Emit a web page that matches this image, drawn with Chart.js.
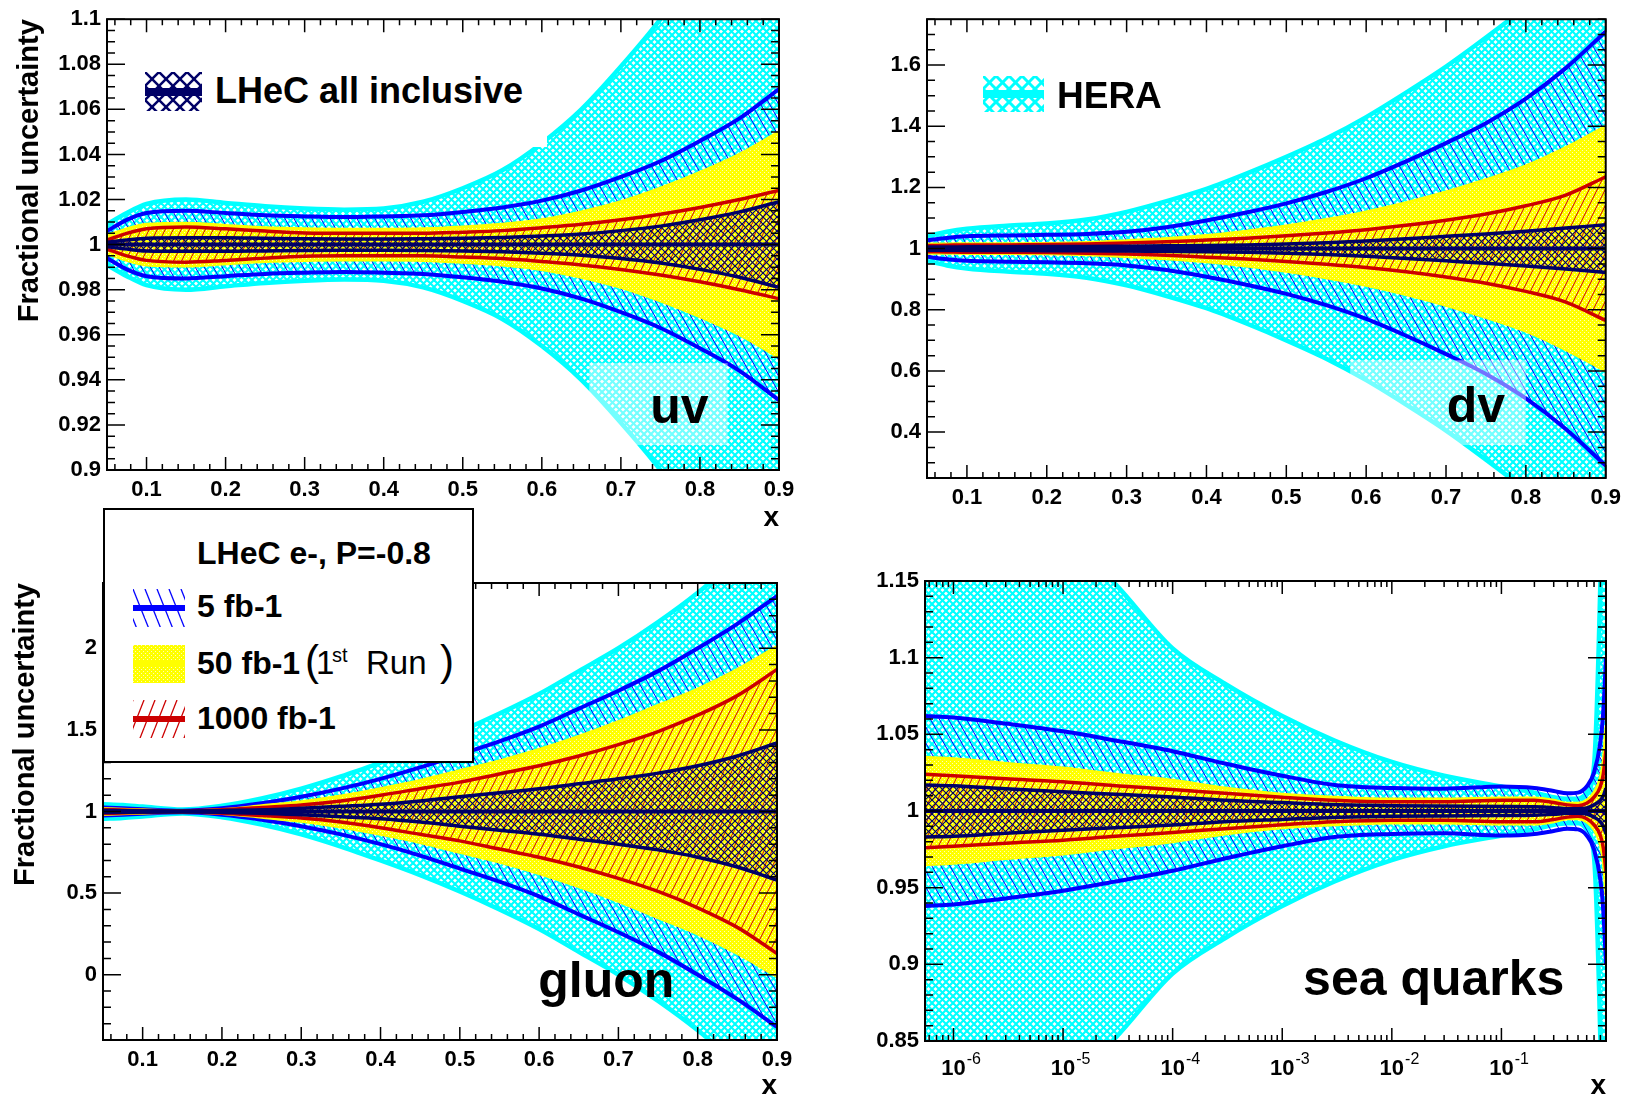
<!DOCTYPE html>
<html>
<head>
<meta charset="utf-8">
<title>LHeC PDF fractional uncertainties</title>
<script src="https://cdn.jsdelivr.net/npm/chart.js@4.4.1/dist/chart.umd.min.js"></script>
<style>
  html, body { margin: 0; padding: 0; background: #fff; }
  body { position: relative; width: 1628px; height: 1103px; overflow: hidden; font-family: "Liberation Sans", Arial, Helvetica, sans-serif; }
  canvas { position: absolute; }
  .box { position: absolute; background: #fff; box-sizing: border-box; }
  .t { position: absolute; white-space: nowrap; line-height: 1.117; color: #000; }
</style>
</head>
<body>
<canvas id="uv" width="815" height="535" style="left:0px;top:0px"></canvas>
<canvas id="dv" width="808" height="540" style="left:820px;top:0px"></canvas>
<canvas id="gluon" width="815" height="548" style="left:0px;top:555px"></canvas>
<canvas id="sea" width="808" height="548" style="left:820px;top:555px"></canvas>
<div class="box" style="left:125px;top:40px;width:422px;height:107px"></div>
<div class="box" style="left:103px;top:508px;width:371px;height:255px;border:2px solid #000"></div>
<script>
// half widths of the uncertainty bands (band = 1 +/- value)

// x grid used by uv, dv and gluon
var xValence = [0.05, 0.075, 0.1, 0.15, 0.2, 0.25, 0.3, 0.35, 0.4, 0.45, 0.5, 0.55, 0.6, 0.65, 0.7, 0.75, 0.8, 0.85, 0.9];

var uvHera = [0.009, 0.014, 0.018, 0.020, 0.0185, 0.017, 0.016, 0.0155, 0.016, 0.019, 0.025, 0.033, 0.045, 0.06, 0.079, 0.10, 0.125, 0.155, 0.19];
var uv5    = [0.006, 0.011, 0.014, 0.015, 0.014, 0.013, 0.0125, 0.0122, 0.0125, 0.013, 0.0145, 0.0165, 0.0195, 0.024, 0.030, 0.037, 0.046, 0.056, 0.069];
var uv50   = [0.004, 0.007, 0.009, 0.0095, 0.0085, 0.0075, 0.007, 0.0068, 0.0068, 0.007, 0.0078, 0.009, 0.011, 0.0145, 0.019, 0.025, 0.032, 0.040, 0.050];
var uv1000 = [0.002, 0.005, 0.007, 0.0078, 0.007, 0.006, 0.0052, 0.005, 0.005, 0.005, 0.0055, 0.0062, 0.0075, 0.009, 0.011, 0.0135, 0.0165, 0.02, 0.024];
var uvAll  = [0.001, 0.002, 0.0028, 0.003, 0.003, 0.0028, 0.0026, 0.0025, 0.0025, 0.0026, 0.0028, 0.0032, 0.0038, 0.0047, 0.0062, 0.0082, 0.011, 0.0145, 0.019];

var dvHera = [0.04, 0.055, 0.065, 0.075, 0.082, 0.095, 0.12, 0.155, 0.195, 0.245, 0.30, 0.36, 0.43, 0.51, 0.595, 0.69, 0.79, 0.90, 1.02];
var dv5    = [0.027, 0.035, 0.04, 0.043, 0.045, 0.048, 0.055, 0.07, 0.092, 0.118, 0.148, 0.185, 0.23, 0.285, 0.345, 0.41, 0.49, 0.59, 0.71];
var dv50   = [0.015, 0.015, 0.016, 0.016, 0.017, 0.02, 0.026, 0.033, 0.043, 0.057, 0.074, 0.095, 0.12, 0.15, 0.185, 0.225, 0.27, 0.33, 0.40];
var dv1000 = [0.01, 0.011, 0.012, 0.012, 0.013, 0.015, 0.018, 0.022, 0.028, 0.034, 0.042, 0.051, 0.062, 0.076, 0.093, 0.113, 0.14, 0.175, 0.235];
var dvAll  = [0.005, 0.005, 0.006, 0.006, 0.007, 0.007, 0.008, 0.009, 0.01, 0.012, 0.015, 0.019, 0.025, 0.032, 0.04, 0.048, 0.057, 0.067, 0.078];

var gHera = [0.045, 0.04, 0.03, 0.012, 0.035, 0.08, 0.14, 0.215, 0.30, 0.39, 0.49, 0.60, 0.72, 0.86, 1.0, 1.16, 1.34, 1.55, 1.8];
var g5    = [0.025, 0.02, 0.014, 0.005, 0.02, 0.05, 0.09, 0.14, 0.20, 0.27, 0.35, 0.43, 0.52, 0.63, 0.74, 0.86, 1.0, 1.15, 1.32];
var g50   = [0.018, 0.014, 0.01, 0.004, 0.012, 0.035, 0.06, 0.095, 0.14, 0.19, 0.25, 0.31, 0.38, 0.46, 0.55, 0.65, 0.75, 0.87, 1.01];
var g1000 = [0.012, 0.009, 0.006, 0.003, 0.01, 0.025, 0.04, 0.065, 0.10, 0.14, 0.18, 0.23, 0.28, 0.34, 0.41, 0.49, 0.59, 0.71, 0.87];
var gAll  = [0.006, 0.005, 0.003, 0.002, 0.005, 0.01, 0.02, 0.032, 0.045, 0.065, 0.09, 0.115, 0.14, 0.17, 0.20, 0.235, 0.28, 0.34, 0.42];

// sea quarks, log x
var xSea = [5.5e-7, 1e-6, 3e-6, 1e-5, 3e-5, 1e-4, 3e-4, 1e-3, 3e-3, 1e-2, 3e-2, 0.1, 0.2, 0.3, 0.4, 0.5, 0.6, 0.7, 0.8, 0.85, 0.9];
var seaHera = [0.24, 0.23, 0.205, 0.18, 0.148, 0.106, 0.083, 0.062, 0.046, 0.032, 0.023, 0.016, 0.012, 0.009, 0.008, 0.008, 0.012, 0.03, 0.15, 0.25, 0.4];
var sea5    = [0.062, 0.061, 0.057, 0.052, 0.046, 0.039, 0.031, 0.023, 0.017, 0.015, 0.0145, 0.016, 0.015, 0.013, 0.0115, 0.012, 0.016, 0.025, 0.045, 0.065, 0.10];
var sea50   = [0.035, 0.034, 0.031, 0.028, 0.024, 0.02, 0.015, 0.011, 0.009, 0.0078, 0.0078, 0.0085, 0.0085, 0.007, 0.005, 0.005, 0.007, 0.012, 0.022, 0.033, 0.055];
var sea1000 = [0.024, 0.023, 0.021, 0.019, 0.0165, 0.014, 0.0115, 0.009, 0.007, 0.006, 0.006, 0.007, 0.007, 0.0055, 0.004, 0.0035, 0.005, 0.009, 0.016, 0.024, 0.04];
var seaAll  = [0.017, 0.0165, 0.0145, 0.0125, 0.011, 0.0092, 0.007, 0.0055, 0.0042, 0.0035, 0.0032, 0.003, 0.0028, 0.0022, 0.0015, 0.0015, 0.002, 0.004, 0.007, 0.01, 0.015];

var CENTRAL = 1;

// axis ticks
var xTicksValence = [0.1, 0.2, 0.3, 0.4, 0.5, 0.6, 0.7, 0.8, 0.9];
var yTicksUv = [0.9, 0.92, 0.94, 0.96, 0.98, 1, 1.02, 1.04, 1.06, 1.08, 1.1];
var yTicksDv = [0.4, 0.6, 0.8, 1, 1.2, 1.4, 1.6];
var yTicksGluon = [0, 0.5, 1, 1.5, 2];
var yTicksSea = [0.85, 0.9, 0.95, 1, 1.05, 1.1, 1.15];
var xTicksSea = [1e-6, 1e-5, 1e-4, 1e-3, 1e-2, 1e-1];
var xExpSea = ['-6', '-5', '-4', '-3', '-2', '-1'];

var FONT = '"Liberation Sans", Arial, Helvetica, sans-serif';
var NAVY = '#000066', BLUE = '#0000ff', RED = '#cc0000', YELLOW = '#ffff00', CYAN = '#00ffff';

function tile(w, h, color, lw, dirs) {
  var c = document.createElement('canvas');
  c.width = w; c.height = h;
  var g = c.getContext('2d');
  g.strokeStyle = color;
  g.lineWidth = lw;
  dirs.forEach(function (d) {
    for (var dx = -w; dx <= w; dx += w) {
      g.beginPath();
      if (d === '\\') { g.moveTo(dx, 0); g.lineTo(dx + w, h); }
      else { g.moveTo(dx, h); g.lineTo(dx + w, 0); }
      g.stroke();
    }
  });
  return c;
}

function dotTile(size) {
  var c = document.createElement('canvas');
  c.width = size; c.height = size;
  var g = c.getContext('2d');
  g.fillStyle = YELLOW;
  g.fillRect(0, 0, size, size);
  g.fillStyle = '#ffffb8';
  g.fillRect(0, 0, 1, 1);
  g.fillRect(size / 2, size / 2, 1, 1);
  return c;
}

var patCtx = document.createElement('canvas').getContext('2d');
function pat(t) { return patCtx.createPattern(t, 'repeat'); }

var fillCyan = pat(tile(7, 7, CYAN, 2.1, ['\\', '/']));
var fillNavy = pat(tile(7, 7, NAVY, 1.2, ['\\', '/']));
var fillBlue = pat(tile(9, 16, BLUE, 1, ['\\']));
var fillRed = pat(tile(8, 16, RED, 1, ['/']));
var fillYellow = pat(dotTile(4));

function band(xv, err, color, fill, width, order) {
  var up = xv.map(function (x, i) { return { x: x, y: CENTRAL + err[i] }; });
  var lo = xv.map(function (x, i) { return { x: x, y: CENTRAL - err[i] }; });
  var common = { borderColor: color, borderWidth: width, pointRadius: 0, clip: 0,
                 cubicInterpolationMode: 'monotone', order: order };
  return [
    Object.assign({ data: up, fill: '+1', backgroundColor: fill }, common),
    Object.assign({ data: lo, fill: false }, common)
  ];
}

function linTicks(scale, step) {
  var out = [], majors = scale.ticks.map(function (t) { return t.value; });
  var i0 = Math.ceil(scale.min / step - 1e-6), i1 = Math.floor(scale.max / step + 1e-6);
  for (var i = i0; i <= i1; i++) {
    var v = i * step;
    var isMajor = majors.some(function (m) { return Math.abs(m - v) < step * 0.01; });
    out.push({ v: v, major: isMajor });
  }
  return out;
}

function logTicks(scale) {
  var out = [];
  var e0 = Math.floor(Math.log10(scale.min)), e1 = Math.ceil(Math.log10(scale.max));
  for (var e = e0; e <= e1; e++) {
    for (var k = 1; k <= 9; k++) {
      var v = k * Math.pow(10, e);
      if (v >= scale.min && v <= scale.max) out.push({ v: v, major: k === 1 });
    }
  }
  return out;
}

// ROOT style frame: ticks inside on all four sides, panel label
var rootAxes = {
  id: 'rootAxes',
  afterDatasetsDraw: function (chart, args, o) {
    var ctx = chart.ctx, a = chart.chartArea, sx = chart.scales.x, sy = chart.scales.y;
    ctx.save();
    if (o.shade) {
      var x0 = sx.getPixelForValue(o.shade[0]), x1 = sx.getPixelForValue(o.shade[1]);
      var y0 = sy.getPixelForValue(o.shade[3]), y1 = sy.getPixelForValue(o.shade[2]);
      ctx.fillStyle = 'rgba(255,255,255,0.45)';
      ctx.fillRect(x0, y0, x1 - x0, y1 - y0);
    }
    ctx.strokeStyle = '#000';
    ctx.lineWidth = 1.5;
    ctx.beginPath();
    var xt = o.xLog ? logTicks(sx) : linTicks(sx, o.xMinor);
    xt.forEach(function (t) {
      var px = sx.getPixelForValue(t.v), len = t.major ? 13 : 6;
      ctx.moveTo(px, a.bottom); ctx.lineTo(px, a.bottom - len);
      ctx.moveTo(px, a.top); ctx.lineTo(px, a.top + len);
    });
    linTicks(sy, o.yMinor).forEach(function (t) {
      var py = sy.getPixelForValue(t.v), len = t.major ? 18 : 8;
      ctx.moveTo(a.left, py); ctx.lineTo(a.left + len, py);
      ctx.moveTo(a.right, py); ctx.lineTo(a.right - len, py);
    });
    ctx.stroke();
    ctx.lineWidth = 2;
    ctx.strokeRect(a.left, a.top, a.right - a.left, a.bottom - a.top);

    ctx.fillStyle = '#000';
    if (o.expLabels) {
      sx.ticks.forEach(function (t, i) {
        var px = sx.getPixelForValue(t.value);
        ctx.font = 'bold 22px ' + FONT;
        ctx.textAlign = 'center';
        ctx.textBaseline = 'alphabetic';
        ctx.fillText('10', px, a.bottom + 34);
        var w = ctx.measureText('10').width;
        ctx.font = '16px ' + FONT;
        ctx.textAlign = 'left';
        ctx.fillText(o.expLabels[i], px + w / 2 + 1, a.bottom + 23);
      });
    }
    if (o.label) {
      ctx.font = 'bold 50px ' + FONT;
      ctx.textAlign = 'left';
      ctx.textBaseline = 'alphabetic';
      ctx.fillText(o.label.text, sx.getPixelForValue(o.label.x), sy.getPixelForValue(o.label.y));
    }
    ctx.restore();
  }
};
Chart.register(rootAxes);

function fmt(v) { return String(Math.round(v * 1000) / 1000); }

function panel(id, p) {
  var sets = [].concat(
    band(p.x, p.hera, CYAN, fillCyan, 4.5, 5),
    band(p.x, p.l5, BLUE, fillBlue, 4, 4),
    band(p.x, p.l50, YELLOW, fillYellow, 3, 3),
    band(p.x, p.l1000, RED, fillRed, 3.5, 2),
    band(p.x, p.all, NAVY, fillNavy, 3.5, 1)
  );
  sets.push({
    data: [{ x: p.x[0], y: CENTRAL }, { x: p.x[p.x.length - 1], y: CENTRAL }],
    borderColor: NAVY, borderWidth: 4, pointRadius: 0, fill: false, clip: 0, order: 0
  });
  var tickFont = { family: FONT, size: 22, weight: 'bold' };
  new Chart(document.getElementById(id), {
    type: 'line',
    data: { datasets: sets },
    options: {
      responsive: false,
      animation: false,
      devicePixelRatio: 1,
      events: [],
      layout: { padding: { top: p.padTop, right: p.padRight, left: 0, bottom: 0 } },
      plugins: {
        legend: { display: false },
        tooltip: { enabled: false },
        rootAxes: { xMinor: 0.02, xLog: p.xLog, yMinor: p.yMinor, label: p.label,
                    shade: p.shade, expLabels: p.expLabels }
      },
      scales: {
        x: {
          type: p.xLog ? 'logarithmic' : 'linear',
          min: p.xMin, max: p.xMax,
          grid: { display: false, drawTicks: false },
          border: { display: false },
          ticks: { display: !p.xLog, font: tickFont, color: '#000', padding: 7,
                   maxRotation: 0, autoSkip: false, callback: fmt },
          afterBuildTicks: function (s) { s.ticks = p.xTicks.map(function (v) { return { value: v }; }); },
          afterFit: function (s) { s.height = p.xHeight; },
          title: { display: p.xTitle, text: 'x', align: 'end', color: '#000',
                   font: { family: FONT, size: 28, weight: 'bold' }, padding: { top: 0, bottom: 0 } }
        },
        y: {
          type: 'linear',
          min: p.yMin, max: p.yMax,
          grid: { display: false, drawTicks: false },
          border: { display: false },
          ticks: { font: tickFont, color: '#000', padding: 6, callback: fmt },
          afterBuildTicks: function (s) { s.ticks = p.yTicks.map(function (v) { return { value: v }; }); },
          afterFit: function (s) { s.width = p.yWidth; },
          title: { display: p.yTitle, text: 'Fractional uncertainty', align: 'end', color: '#000',
                   font: { family: FONT, size: 29, weight: 'bold' }, padding: { top: p.yTitlePad || 0, bottom: 0 } }
        }
      }
    }
  });
}

panel('uv', {
  x: xValence, hera: uvHera, l5: uv5, l50: uv50, l1000: uv1000, all: uvAll,
  xMin: 0.05, xMax: 0.9, xTicks: xTicksValence, yMin: 0.9, yMax: 1.1, yTicks: yTicksUv, yMinor: 0.005,
  padTop: 18, padRight: 36, yWidth: 107, xHeight: 65, xTitle: true, yTitle: true, yTitlePad: 13,
  label: { text: 'uv', x: 0.737, y: 0.921 }, shade: [0.66, 0.835, 0.9111, 0.9474]
});
panel('dv', {
  x: xValence, hera: dvHera, l5: dv5, l50: dv50, l1000: dv1000, all: dvAll,
  xMin: 0.05, xMax: 0.9, xTicks: xTicksValence, yMin: 0.25, yMax: 1.75, yTicks: yTicksDv, yMinor: 0.05,
  padTop: 18, padRight: 21, yWidth: 107, xHeight: 62, xTitle: false, yTitle: false,
  label: { text: 'dv', x: 0.701, y: 0.433 }, shade: [0.58, 0.80, 0.358, 0.635]
});
panel('gluon', {
  x: xValence, hera: gHera, l5: g5, l50: g50, l1000: g1000, all: gAll,
  xMin: 0.05, xMax: 0.9, xTicks: xTicksValence, yMin: -0.4, yMax: 2.4, yTicks: yTicksGluon, yMinor: 0.1,
  padTop: 28, padRight: 38, yWidth: 103, xHeight: 63, xTitle: true, yTitle: true, yTitlePad: 9,
  label: { text: 'gluon', x: 0.599, y: -0.137 }
});
panel('sea', {
  x: xSea, hera: seaHera, l5: sea5, l50: sea50, l1000: sea1000, all: seaAll,
  xLog: true, xMin: 5.5e-7, xMax: 0.9, xTicks: xTicksSea, expLabels: xExpSea,
  yMin: 0.85, yMax: 1.15, yTicks: yTicksSea, yMinor: 0.01,
  padTop: 26, padRight: 22, yWidth: 105, xHeight: 62, xTitle: true, yTitle: false,
  label: { text: 'sea quarks', x: 1.55e-3, y: 0.88 }
});

// legends
function addText(str, left, baseline, size, bold) {
  var s = document.createElement('span');
  s.className = 't';
  s.textContent = str;
  s.style.left = left + 'px';
  s.style.top = (baseline - 0.905 * size) + 'px';
  s.style.fontSize = size + 'px';
  s.style.fontWeight = bold ? 'bold' : 'normal';
  document.body.appendChild(s);
}

function addSwatch(left, top, w, h, t, lineColor, lineW) {
  var c = document.createElement('canvas');
  c.width = w; c.height = h;
  c.style.left = left + 'px';
  c.style.top = top + 'px';
  var g = c.getContext('2d');
  g.fillStyle = g.createPattern(t, 'repeat');
  g.fillRect(0, 0, w, h);
  g.fillStyle = lineColor;
  g.fillRect(0, Math.round(h / 2 - lineW / 2), w, lineW);
  document.body.appendChild(c);
}

addSwatch(145, 72, 57, 39, tile(14, 14, NAVY, 2.5, ['\\', '/']), NAVY, 8);
addText('LHeC all inclusive', 215, 104, 36, true);

addSwatch(983, 76, 61, 36, tile(13, 13, CYAN, 3, ['\\', '/']), CYAN, 8);
addText('HERA', 1057, 108, 37, true);

addText('LHeC e-, P=-0.8', 197, 565, 32, true);
addSwatch(133, 589, 52, 38, tile(12, 30, BLUE, 1.3, ['\\']), BLUE, 6);
addText('5 fb-1', 197, 618, 32, true);
addSwatch(133, 645, 52, 38, dotTile(4), YELLOW, 6);
addText('50 fb-1', 197, 675, 32, true);
addText('(', 305, 676, 42, false);
addText('1', 316, 675, 33, false);
addText('st', 332, 662, 20, false);
addText('Run', 366, 675, 33, false);
addText(')', 440, 676, 42, false);
addSwatch(133, 700, 52, 38, tile(11, 28, RED, 1.3, ['/']), RED, 6);
addText('1000 fb-1', 197, 730, 32, true);
</script>
</body>
</html>
